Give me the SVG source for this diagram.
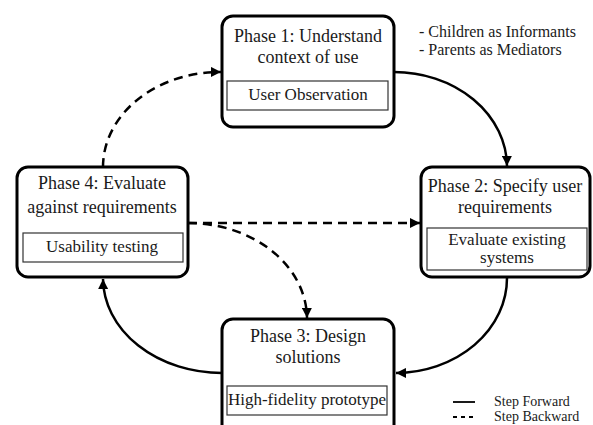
<svg xmlns="http://www.w3.org/2000/svg" width="593" height="425" viewBox="0 0 593 425">
<defs>
<marker id="ah" viewBox="0 0 10 10" refX="10" refY="5" markerWidth="4" markerHeight="4" orient="auto" markerUnits="strokeWidth">
<path d="M0,0 L10,5 L0,10 z" fill="#000"/>
</marker>
<style>
.box{fill:#fff;stroke:#000;stroke-width:3}
.inner{fill:#fff;stroke:#333;stroke-width:1.2}
text{font-family:'Liberation Serif','DejaVu Serif',serif;fill:#1a1a1a}
.t{font-size:18px;text-anchor:middle}
.s{font-size:16px}
.l{font-size:14px}
.c{fill:none;stroke:#000;stroke-width:2.5}
.d{stroke-dasharray:9,6}
</style>
</defs>
<rect width="593" height="425" fill="#fff"/>
<g id="connectors">
<path class="c" d="M394,72 A113,95 0 0 1 507,166" marker-end="url(#ah)"/>
<path class="c" d="M507,278 A112,95 0 0 1 396,373" marker-end="url(#ah)"/>
<path class="c" d="M222,373 A119,95 0 0 1 103,279" marker-end="url(#ah)"/>
<path class="c d" d="M103,167 A117,95 0 0 1 221,72" marker-end="url(#ah)"/>
<path class="c d" d="M188,223 L420,223" marker-end="url(#ah)"/>
<path class="c d" d="M188,223 A119,96 0 0 1 307,318" marker-end="url(#ah)"/>
</g>
<g id="phase1">
<rect class="box" x="222" y="16" width="172" height="111" rx="11"/>
<text class="t" x="308" y="42">Phase 1: Understand</text>
<text class="t" x="308" y="63">context of use</text>
<rect class="inner" x="227" y="81" width="161" height="29"/>
<text class="t" x="308" y="100" style="font-size:17px">User Observation</text>
</g>
<g id="phase2">
<rect class="box" x="421" y="167" width="169" height="110" rx="11"/>
<text class="t" x="505" y="192">Phase 2: Specify user</text>
<text class="t" x="505" y="213">requirements</text>
<rect class="inner" x="427" y="228" width="160" height="42"/>
<text class="t" x="507" y="245" style="font-size:17px">Evaluate existing</text>
<text class="t" x="507" y="263" style="font-size:17px">systems</text>
</g>
<g id="phase3">
<rect class="box" x="222" y="319" width="172" height="120" rx="11"/>
<text class="t" x="308" y="342">Phase 3: Design</text>
<text class="t" x="308" y="363">solutions</text>
<rect class="inner" x="227" y="386" width="160" height="29"/>
<text class="t" x="307" y="405" style="font-size:17px">High-fidelity prototype</text>
</g>
<g id="phase4">
<rect class="box" x="17" y="167" width="171" height="110" rx="11"/>
<text class="t" x="102" y="189">Phase 4: Evaluate</text>
<text class="t" x="102" y="213">against requirements</text>
<rect class="inner" x="23" y="233" width="160" height="29"/>
<text class="t" x="102" y="252" style="font-size:17px">Usability testing</text>
</g>
<g id="notes">
<text class="s" x="419" y="37">- Children as Informants</text>
<text class="s" x="419" y="55">- Parents as Mediators</text>
</g>
<g id="legend">
<line x1="453" y1="402" x2="475" y2="402" stroke="#000" stroke-width="1.8"/>
<line x1="453" y1="417" x2="475" y2="417" stroke="#000" stroke-width="1.8" stroke-dasharray="4,4"/>
<text class="l" x="494" y="406">Step Forward</text>
<text class="l" x="494" y="421">Step Backward</text>
</g>
</svg>
